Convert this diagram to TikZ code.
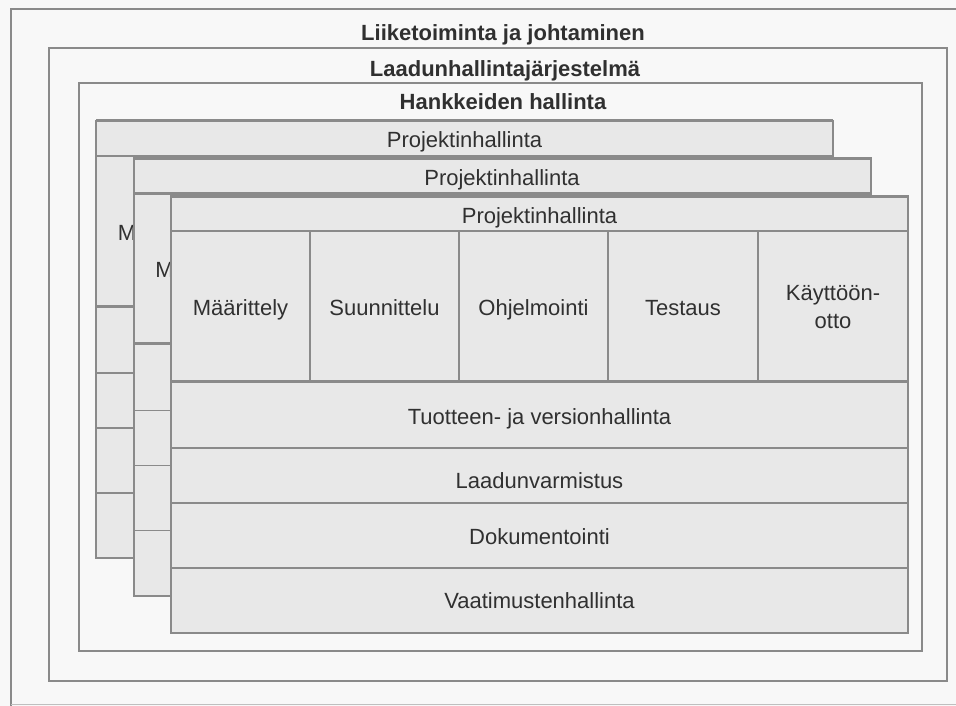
\documentclass[tikz,border=0pt]{standalone}
\usepackage{fontspec}
\setmainfont{Liberation Sans}
\usepackage{tikz}
\usetikzlibrary{positioning}

\definecolor{framegray}{HTML}{8A8A8A}
\definecolor{sheetgray}{HTML}{E8E8E8}
\definecolor{paper}{HTML}{F8F8F8}
\definecolor{inkgray}{HTML}{303030}

\tikzset{
  frame/.style={draw=framegray, line width=2.6pt},
  sheet/.style={draw=framegray, fill=sheetgray, line width=2pt},
  rowline/.style={draw=framegray, line width=1.8pt},
  phaseline/.style={draw=framegray, line width=1.5pt},
  titletext/.style={font=\fontsize{22}{26}\selectfont\bfseries, text=inkgray, inner sep=0pt, anchor=base},
  boxtext/.style={font=\fontsize{22}{28}\selectfont, text=inkgray, inner sep=0pt, anchor=base, align=center},
}

\begin{document}
\begin{tikzpicture}[x=1pt, y=-1pt]
    \useasboundingbox[fill=paper] (0,0) rectangle (956,706);
    % Frames
    \draw[frame] (11,706) -- (11,9) -- (956,9);
    \draw[framegray!55, line width=0.8pt] (11,704) -- (956,704);
    \node[titletext] (business) at (503,41) {Liiketoiminta ja johtaminen};
    \draw[frame] (49,48) rectangle (947,681);
    \node[titletext] (quality) at (505,77) {Laadunhallintajärjestelmä};
    \draw[frame] (79,83) rectangle (922,651);
    \node[titletext] (programme) at (503,110) {Hankkeiden hallinta};
    % Projects, stacked back to front
    \foreach \k in {0,1,2} {
      \begin{scope}[shift={(96+37.5*\k,121+37.5*\k)}]
        \draw[sheet] (0,0) rectangle (737,437);
        \draw[framegray, line width=3pt] (0,0) -- (737,0);
        \draw[framegray, line width=2.6pt] (0,35) -- (737,35);
        \draw[framegray, line width=3pt] (0,185) -- (737,185);
        \draw[rowline] (0,252) -- (737,252);
        \draw[rowline] (0,307) -- (737,307);
        \draw[rowline] (0,372) -- (737,372);
        \foreach \xd in {139,288,437,587}
          \draw[phaseline] (\xd,36) -- (\xd,185);
        \node[boxtext] (pm\k) at (368.5,27) {Projektinhallinta};
        \node[boxtext] (phase\k-1) at (69.5,119) {Määrittely};
        % only the front sheet shows the rest
        \ifnum\k=2
          \foreach \xa/\xb/\txt [count=\i from 2] in {139/288/Suunnittelu, 288/437/Ohjelmointi, 437/587/Testaus}
            \node[boxtext] (phase\k-\i) at ({(\xa+\xb)/2},119) {\txt};
          \node[boxtext] (phase\k-5) at (662,132) {Käyttöön-\\otto};
          \node[boxtext] (row\k-1) at (368.5,228) {Tuotteen- ja versionhallinta};
          \node[boxtext] (row\k-2) at (368.5,292) {Laadunvarmistus};
          \node[boxtext] (row\k-3) at (368.5,348) {Dokumentointi};
          \node[boxtext] (row\k-4) at (368.5,412) {Vaatimustenhallinta};
        \fi
      \end{scope}
    }
\end{tikzpicture}
\end{document}
